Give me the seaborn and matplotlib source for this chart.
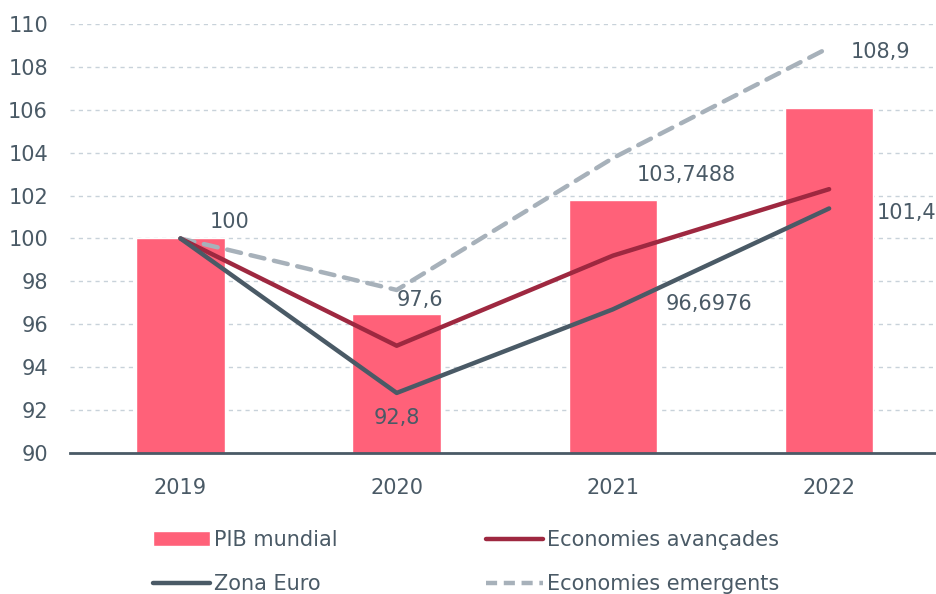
import numpy as np
import pandas as pd
import seaborn as sns
import matplotlib.pyplot as plt
from matplotlib.patches import Patch
from matplotlib.lines import Line2D

years = ["2019", "2020", "2021", "2022"]
pib_mundial = [100.0, 96.5, 101.8, 106.1]
avancades = [100.0, 95.0, 99.2, 102.3]
zona_euro = [100.0, 92.8, 96.6976, 101.4]
emergents = [100.0, 97.6, 103.7488, 108.9]

# labels shown on the chart: (series, year index, text)
label_series = ["emergents", "emergents", "euro", "emergents", "euro", "emergents", "euro"]
label_idx = [0, 1, 1, 2, 2, 3, 3]
label_text = ["100", "97,6", "92,8", "103,7488", "96,6976", "108,9", "101,4"]
label_offsets = [(35, 12), (17, -7), (0, -18), (53, -12), (69, 4), (37, -3), (56, -3)]

C_BAR = "#FF6179"
C_AV = "#9E2840"
C_EURO = "#4A5A66"
C_EM = "#A7B1BA"
C_TEXT = "#4A5A66"
C_GRID = "#C8D2DA"

sns.set_theme(style="white")
plt.rcParams["font.family"] = ["DejaVu Sans"]

fig = plt.figure(figsize=(9.36, 5.94), dpi=100)
ax = fig.add_axes([0.075, 0.2374, 0.924, 0.7222])

df = pd.DataFrame({"year": years, "pib": pib_mundial})
sns.barplot(data=df, x="year", y="pib", color=C_BAR, saturation=1, width=0.41, ax=ax, zorder=2)

pos = np.arange(len(years))
lines = pd.DataFrame({"pos": pos, "av": avancades, "euro": zona_euro, "em": emergents})
sns.lineplot(data=lines, x="pos", y="em", color=C_EM, lw=3.2, ax=ax, zorder=3,
             linestyle=(0, (3.2, 2.2)), dash_capstyle="round")
sns.lineplot(data=lines, x="pos", y="av", color=C_AV, lw=3.2, ax=ax, zorder=4, solid_capstyle="round")
sns.lineplot(data=lines, x="pos", y="euro", color=C_EURO, lw=3.2, ax=ax, zorder=5, solid_capstyle="round")

series = {"emergents": emergents, "euro": zona_euro}
for s, i, t, off in zip(label_series, label_idx, label_text, label_offsets):
    ax.annotate(t, (pos[i], series[s][i]), xytext=off, textcoords="offset points",
                ha="center", va="center", fontsize=15, color=C_TEXT, zorder=6)

ax.set_ylim(90, 110)
ax.set_xlim(-0.51, 3.49)
ax.set_yticks(range(90, 111, 2))
ax.set_xlabel("")
ax.set_ylabel("")
ax.yaxis.grid(True, linestyle=(0, (3, 3)), color=C_GRID, lw=1)
ax.set_axisbelow(True)
for side in ["top", "right", "left"]:
    ax.spines[side].set_visible(False)
ax.spines["bottom"].set_color(C_EURO)
ax.spines["bottom"].set_linewidth(2)
ax.spines["bottom"].set_zorder(7)
ax.tick_params(axis="y", length=0, pad=16, labelsize=15, labelcolor=C_TEXT)
ax.tick_params(axis="x", length=0, pad=18, labelsize=15, labelcolor=C_TEXT)

handles = [
    Patch(facecolor=C_BAR, label="PIB mundial"),
    Line2D([], [], color=C_EURO, lw=3.2, solid_capstyle="round", label="Zona Euro"),
    Line2D([], [], color=C_AV, lw=3.2, solid_capstyle="round", label="Economies avançades"),
    Line2D([], [], color=C_EM, lw=3.2, linestyle=(0, (2.5, 1.5)), label="Economies emergents"),
]
fig.legend(handles=handles, ncol=2, loc="upper left", bbox_to_anchor=(0.163, 0.108),
           frameon=False, fontsize=15, labelcolor=C_TEXT, handlelength=2.75,
           handletextpad=0.2, columnspacing=7.1, labelspacing=1.15, borderpad=0,
           borderaxespad=0)

fig.savefig("out.png", dpi=100)
